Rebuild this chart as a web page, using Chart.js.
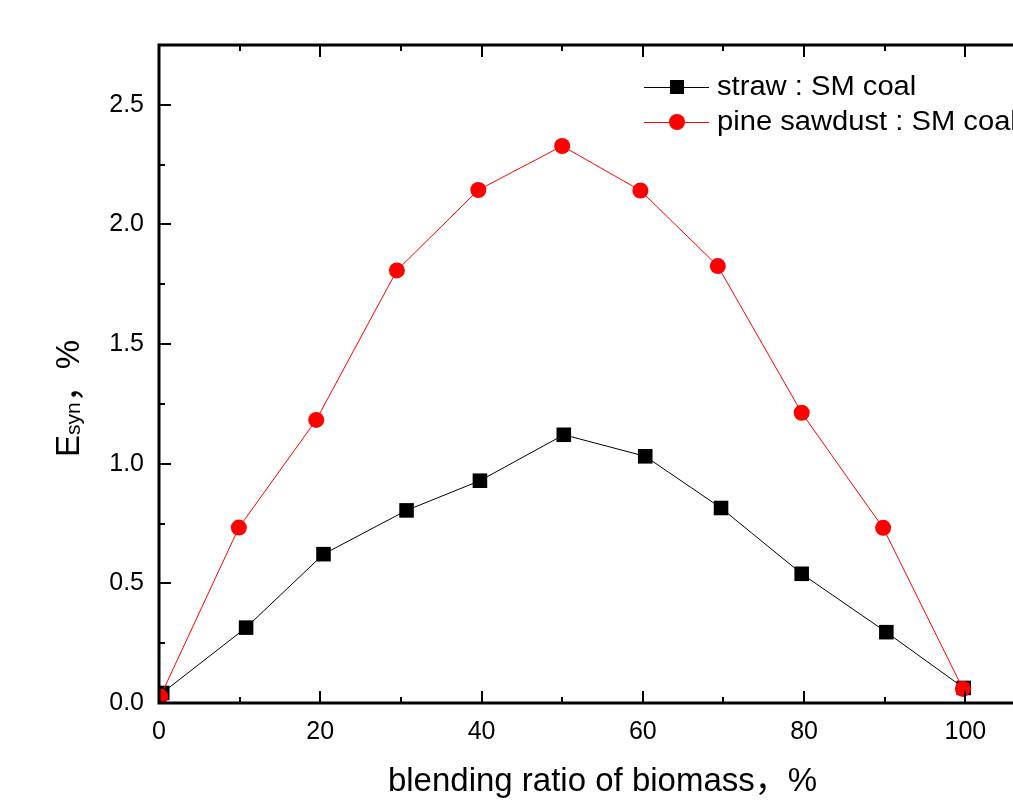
<!DOCTYPE html>
<html lang="en">
<head>
  <meta charset="UTF-8" />
  <title>Esyn vs blending ratio</title>
  <script src="https://cdn.jsdelivr.net/npm/chart.js@4.4.1/dist/chart.umd.min.js"></script>
  <style>
    html, body {
      margin: 0;
      padding: 0;
      background: #fff;
      overflow: hidden;
    }
    #wrap {
      width: 1060px;
      height: 809px;
    }
  </style>
</head>
<body>
  <div id="wrap">
    <canvas id="chart" width="1060" height="809"></canvas>
  </div>

  <script>
    // data
    const strawX = [0.4, 10.8, 20.4, 30.7, 39.8, 50.2, 60.3, 69.7, 79.7, 90.2, 99.8];
    const strawY = [0.042, 0.315, 0.622, 0.805, 0.929, 1.121, 1.031, 0.815, 0.540, 0.296, 0.063];
    const pineX = [0.15, 9.9, 19.5, 29.5, 39.6, 50.0, 59.7, 69.3, 79.7, 89.8, 99.7];
    const pineY = [0.026, 0.733, 1.183, 1.808, 2.144, 2.328, 2.142, 1.826, 1.213, 0.732, 0.059];

    const xTickLabels = [0, 20, 40, 60, 80, 100];
    const yTickLabels = [0, 0.5, 1.0, 1.5, 2.0, 2.5];

    const FONT = '"Liberation Sans", Arial, "Noto Sans CJK SC", sans-serif';

    const toPoints = (xs, ys) => xs.map((x, i) => ({ x: x, y: ys[i] }));

    // inward ticks + frame, drawn over the points like the original
    const frame = {
      id: 'frame',
      afterDatasetsDraw(chart) {
        const { ctx, chartArea: a, scales } = chart;
        ctx.save();
        ctx.strokeStyle = '#000';
        ctx.lineWidth = 2;
        scales.x.ticks.forEach(t => {
          const px = Math.round(scales.x.getPixelForValue(t.value));
          const len = t.value % 20 === 0 ? 12 : 6;
          ctx.beginPath();
          ctx.moveTo(px, a.bottom); ctx.lineTo(px, a.bottom - len);
          ctx.moveTo(px, a.top); ctx.lineTo(px, a.top + len);
          ctx.stroke();
        });
        scales.y.ticks.forEach(t => {
          const py = Math.round(scales.y.getPixelForValue(t.value));
          const major = Math.abs(t.value * 2 - Math.round(t.value * 2)) < 1e-6;
          const len = major ? 12 : 6;
          ctx.beginPath();
          ctx.moveTo(a.left, py); ctx.lineTo(a.left + len, py);
          ctx.moveTo(a.right, py); ctx.lineTo(a.right - len, py);
          ctx.stroke();
        });
        ctx.lineWidth = 3;
        ctx.strokeRect(a.left, a.top, a.right - a.left, a.bottom - a.top);
        ctx.restore();
      }
    };

    // legend and axis titles
    const labels = {
      id: 'labels',
      afterDraw(chart) {
        const { ctx, chartArea: a } = chart;
        ctx.save();
        ctx.fillStyle = '#000';

        // legend
        const rows = [
          { text: 'straw : SM coal', color: '#000', style: 'rect' },
          { text: 'pine sawdust : SM coal', color: '#ff0000', style: 'circle' }
        ];
        const lx = a.left + 485, ly = a.top + 42;
        rows.forEach((r, i) => {
          const y = ly + i * 35;
          ctx.strokeStyle = r.color;
          ctx.lineWidth = 1;
          ctx.beginPath();
          ctx.moveTo(lx, y + 0.5); ctx.lineTo(lx + 65, y + 0.5);
          ctx.stroke();
          ctx.fillStyle = r.color;
          if (r.style === 'rect') {
            ctx.fillRect(lx + 26, y - 7, 14, 14);
          } else {
            ctx.beginPath();
            ctx.arc(lx + 33, y, 8, 0, Math.PI * 2);
            ctx.fill();
          }
          ctx.fillStyle = '#000';
          ctx.font = '27px ' + FONT;
          ctx.textAlign = 'left';
          ctx.textBaseline = 'middle';
          ctx.save();
          ctx.translate(lx + 73, y + 1);
          ctx.scale(1.08, 1);
          ctx.fillText(r.text, 0, 0);
          ctx.restore();
        });

        // x title
        ctx.font = '33px ' + FONT;
        ctx.textAlign = 'center';
        ctx.textBaseline = 'middle';
        ctx.fillText('blending ratio of biomass，%', (a.left + a.right) / 2, a.bottom + 79);

        // y title, E with subscript syn
        ctx.translate(79, a.top + 412);
        ctx.rotate(-Math.PI / 2);
        ctx.textAlign = 'left';
        ctx.textBaseline = 'alphabetic';
        let x = 0;
        ctx.font = '33px ' + FONT;
        ctx.fillText('E', x, 0);
        x += ctx.measureText('E').width;
        ctx.font = '21px ' + FONT;
        ctx.fillText('syn', x, 1);
        x += ctx.measureText('syn').width;
        ctx.font = '33px ' + FONT;
        ctx.fillText('，%', x, 0);
        ctx.restore();
      }
    };

    new Chart(document.getElementById('chart'), {
      type: 'line',
      data: {
        datasets: [
          {
            label: 'pine sawdust : SM coal',
            data: toPoints(pineX, pineY),
            borderColor: '#ff0000',
            backgroundColor: '#ff0000',
            borderWidth: 1,
            pointStyle: 'circle',
            pointRadius: 8,
            pointBorderWidth: 0,
            tension: 0
          },
          {
            label: 'straw : SM coal',
            data: toPoints(strawX, strawY),
            borderColor: '#000',
            backgroundColor: '#000',
            borderWidth: 1,
            pointStyle: 'rect',
            pointRadius: 10.3,
            pointBorderWidth: 0,
            tension: 0
          }
        ]
      },
      options: {
        responsive: false,
        animation: false,
        devicePixelRatio: 1,
        layout: { padding: { top: 45, right: 14, left: 0, bottom: 0 } },
        plugins: {
          legend: { display: false },
          tooltip: { enabled: false }
        },
        scales: {
          x: {
            type: 'linear',
            min: 0,
            max: 110,
            grid: { display: false, drawTicks: false },
            border: { display: false },
            ticks: {
              stepSize: 10,
              autoSkip: false,
              maxRotation: 0,
              padding: 14,
              color: '#000',
              font: { family: FONT, size: 25 },
              callback: v => xTickLabels.includes(v) ? String(v) : ''
            },
            afterFit: s => { s.height = 106; }
          },
          y: {
            type: 'linear',
            min: 0,
            max: 2.75,
            grid: { display: false, drawTicks: false },
            border: { display: false },
            ticks: {
              stepSize: 0.25,
              autoSkip: false,
              padding: 15,
              color: '#000',
              font: { family: FONT, size: 25 },
              callback: v => yTickLabels.some(t => Math.abs(t - v) < 1e-6) ? v.toFixed(1) : ''
            },
            afterFit: s => { s.width = 159; }
          }
        }
      },
      plugins: [frame, labels]
    });
  </script>
</body>
</html>
